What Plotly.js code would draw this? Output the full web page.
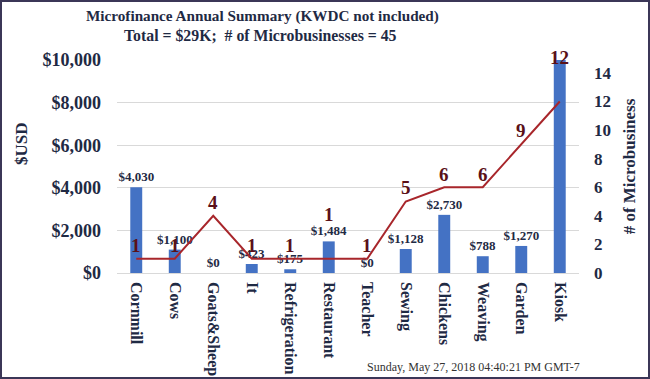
<!DOCTYPE html>
<html>
<head>
<meta charset="utf-8">
<script src="https://cdn.plot.ly/plotly-3.0.1.min.js"></script>
<style>
html,body{margin:0;padding:0;background:#fff;}
#wrap{position:relative;width:650px;height:379px;}
#chart{width:650px;height:379px;}
#frame{position:absolute;left:0;top:0;width:650px;height:379px;box-sizing:border-box;border:2px solid #3b3657;pointer-events:none;}
</style>
</head>
<body>
<div id="wrap"><div id="chart"></div><div id="frame"></div></div>
<script>
const categories = ["Cornmill","Cows","Goats&Sheep","It","Refrigeration","Restaurant","Teacher","Sewing","Chickens","Weaving","Garden","Kiosk"];
const amountsUSD = [4030, 1100, 0, 423, 175, 1484, 0, 1128, 2730, 788, 1270, 15900];
const amountLabels = ["$4,030","$1,100","$0","$423","$175","$1,484","$0","$1,128","$2,730","$788","$1,270",""];
const businessCounts = [1, 1, 4, 1, 1, 1, 1, 5, 6, 6, 9, 12];
const countLabelShift = [13, 13, 13, 13, 13, 44, 13, 14, 13, 13, 14, 44];
const leftTicks = [0, 2000, 4000, 6000, 8000, 10000];
const leftTickText = ["$0","$2,000","$4,000","$6,000","$8,000","$10,000"];
const rightTicks = [0, 2, 4, 6, 8, 10, 12, 14];
const titleLines = ["Microfinance Annual Summary (KWDC not included)", "Total = $29K;  # of Microbusinesses = 45"];
const leftAxisTitle = "$USD";
const rightAxisTitle = "# of Microbusiness";
const dateStamp = "Sunday, May 27, 2018 04:40:21 PM GMT-7";

const SERIF = '"Liberation Serif", "DejaVu Serif", serif';
const NAVY = '#1f2a44';

const bars = {
  type: 'bar', x: categories, y: amountsUSD, yaxis: 'y',
  width: 0.31,
  marker: {color: '#4472C4'},
  text: amountLabels, textposition: 'outside', cliponaxis: false, constraintext: 'none',
  textfont: {family: SERIF, size: 13, color: NAVY, weight: 'bold'},
  hoverinfo: 'skip'
};
const line = {
  type: 'scatter', mode: 'lines', x: categories, y: businessCounts, yaxis: 'y2',
  line: {color: '#a8262b', width: 2},
  hoverinfo: 'skip'
};

const annotations = businessCounts.map((v, i) => ({
  x: categories[i], y: v, xref: 'x', yref: 'y2',
  text: String(v), showarrow: false, yshift: countLabelShift[i],
  font: {family: SERIF, size: 19, color: '#5a1018', weight: 'bold'}
}));
annotations.push({
  x: 0.314, y: 1.2066, xref: 'paper', yref: 'paper', xanchor: 'center', yanchor: 'middle',
  text: titleLines[0], showarrow: false,
  font: {family: SERIF, size: 15.2, color: NAVY, weight: 'bold'}
});
annotations.push({
  x: 0.31, y: 1.1127, xref: 'paper', yref: 'paper', xanchor: 'center', yanchor: 'middle',
  text: titleLines[1], showarrow: false,
  font: {family: SERIF, size: 15.8, color: NAVY, weight: 'bold'}
});
annotations.push({
  x: -0.2056, y: 0.606, xref: 'paper', yref: 'paper', xanchor: 'center', yanchor: 'middle',
  text: leftAxisTitle, textangle: -90, showarrow: false,
  font: {family: SERIF, size: 17, color: NAVY, weight: 'bold'}
});
annotations.push({
  x: 1.006, y: -0.441, xref: 'paper', yref: 'paper', xanchor: 'right', yanchor: 'middle',
  text: dateStamp, showarrow: false,
  font: {family: SERIF, size: 12, color: '#333'}
});

const layout = {
  width: 650, height: 379,
  margin: {l: 117, r: 71, t: 60, b: 106, pad: 0},
  paper_bgcolor: '#fff', plot_bgcolor: '#fff',
  showlegend: false,
  xaxis: {
    tickangle: 90, showgrid: false, showline: false, ticks: '',
    ticklabelstandoff: 8,
    tickfont: {family: SERIF, size: 16, color: NAVY, weight: 'bold'},
    fixedrange: true
  },
  yaxis: {
    range: [0, 10000], tickvals: leftTicks, ticktext: leftTickText,
    showgrid: true, gridcolor: '#d9d9d9', gridwidth: 1,
    zeroline: true, zerolinecolor: '#d9d9d9', showline: false, ticks: '',
    ticklabelstandoff: 15,
    tickfont: {family: SERIF, size: 18, color: NAVY, weight: 'bold'}
  },
  yaxis2: {
    overlaying: 'y', side: 'right', range: [0, 14.9], tickvals: rightTicks,
    showgrid: false, zeroline: false, showline: false, ticks: '',
    ticklabelstandoff: 14,
    tickfont: {family: SERIF, size: 17, color: NAVY, weight: 'bold'},
    title: {text: rightAxisTitle, standoff: 12, font: {family: SERIF, size: 17, color: NAVY, weight: 'bold'}}
  },
  annotations: annotations
};

Plotly.newPlot('chart', [bars, line], layout, {displayModeBar: false, staticPlot: true});
</script>
</body>
</html>
